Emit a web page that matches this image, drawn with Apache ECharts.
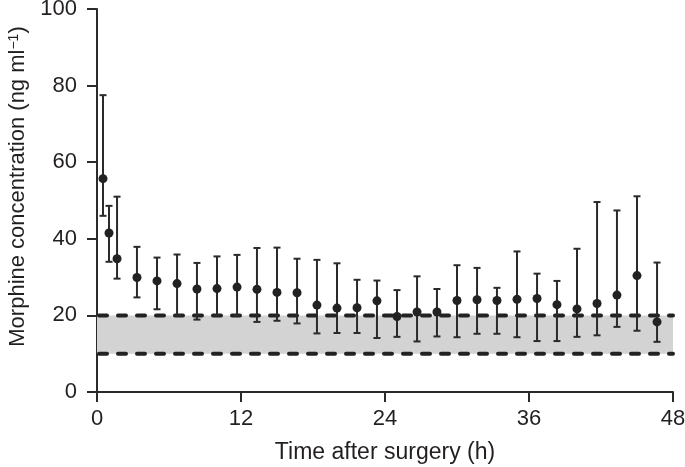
<!DOCTYPE html>
<html>
<head>
<meta charset="utf-8">
<script src="https://cdn.jsdelivr.net/npm/echarts@6/dist/echarts.min.js"></script>
<style>html,body{margin:0;padding:0;background:#fff}#c{width:685px;height:467px}</style>
</head>
<body>
<div id="c"></div>
<script>
// Time after surgery (h)
var times = [0.5, 1, 1.67, 3.33, 5, 6.67, 8.33, 10, 11.67, 13.33, 15, 16.67, 18.33, 20, 21.67, 23.33, 25, 26.67, 28.33, 30, 31.67, 33.33, 35, 36.67, 38.33, 40, 41.67, 43.33, 45, 46.67];
// Morphine concentration (ng/ml)
var means = [55.7, 41.5, 34.8, 29.9, 29.0, 28.3, 26.9, 27.0, 27.4, 26.8, 26.0, 25.9, 22.7, 21.9, 22.0, 23.8, 19.7, 20.9, 20.9, 23.9, 24.1, 23.9, 24.2, 24.4, 22.8, 21.7, 23.1, 25.3, 30.4, 18.3];
var upper = [77.5, 48.6, 51.0, 37.9, 35.1, 35.9, 33.7, 35.4, 35.8, 37.6, 37.7, 34.8, 34.5, 33.6, 29.3, 29.1, 26.6, 30.2, 26.9, 33.1, 32.4, 27.2, 36.7, 30.9, 29.0, 37.4, 49.6, 47.4, 51.1, 33.8];
var lower = [46.0, 34.0, 29.6, 24.7, 21.6, 19.9, 18.9, 20.0, 20.0, 18.3, 18.6, 17.9, 15.3, 15.4, 15.4, 14.1, 14.4, 13.2, 14.5, 14.3, 15.2, 15.2, 14.3, 13.3, 13.3, 14.4, 14.8, 17.0, 16.0, 13.1];
// Target range (ng/ml) and time span (h)
var targetRange = [10, 20];
var timeSpan = [0, 48];
var xTicks = [0, 12, 24, 36, 48];
var yTicks = [0, 20, 40, 60, 80, 100];

var FONT = 'Liberation Sans, Arial, Helvetica, sans-serif';
var TXT = '#231f20';
var AX = '#2b2b2b';

var points = times.map(function (t, i) { return [t, means[i]]; });
var bars = times.map(function (t, i) { return [t, lower[i], upper[i]]; });

var chart = echarts.init(document.getElementById('c'));
chart.setOption({
  animation: false,
  grid: { left: 97, right: 12, top: 9, bottom: 75, containLabel: false, outerBoundsMode: 'none' },
  xAxis: {
    type: 'value', min: xTicks[0], max: xTicks[xTicks.length - 1], interval: 12,
    name: 'Time after surgery (h)', nameLocation: 'middle', nameGap: 49,
    nameTextStyle: { fontFamily: FONT, fontSize: 23, color: TXT },
    axisLine: { lineStyle: { color: AX, width: 2 } },
    axisTick: { length: 10, lineStyle: { color: AX, width: 2 } },
    axisLabel: { fontFamily: FONT, fontSize: 22, color: TXT, margin: 16 },
    splitLine: { show: false }
  },
  yAxis: {
    type: 'value', min: yTicks[0], max: yTicks[yTicks.length - 1], interval: 20,
    name: '{n|Morphine concentration (ng ml}{s|−1}{n|)}', nameLocation: 'middle', nameGap: 68, nameRotate: 90,
    nameTextStyle: {
      fontFamily: FONT, fontSize: 22, color: TXT, padding: [0, 0, 0, 28],
      rich: {
        n: { fontFamily: FONT, fontSize: 22, color: TXT },
        s: { fontFamily: FONT, fontSize: 14, color: TXT, verticalAlign: 'top', padding: [0, 0, 8, 0] }
      }
    },
    axisLine: { show: true, lineStyle: { color: AX, width: 2 } },
    axisTick: { show: true, length: 10, lineStyle: { color: AX, width: 2 } },
    axisLabel: { fontFamily: FONT, fontSize: 22, color: TXT, margin: 20 },
    splitLine: { show: false }
  },
  series: [
    {
      type: 'line', data: [[timeSpan[0], targetRange[1]], [timeSpan[1], targetRange[1]]],
      symbol: 'none', silent: true, z: 3,
      lineStyle: { color: '#222', width: 4, type: [8, 11], dashOffset: -2, cap: 'round' },
      markArea: {
        silent: true,
        itemStyle: { color: '#d3d3d4' },
        data: [[{ coord: [timeSpan[0], targetRange[0]] }, { coord: [timeSpan[1], targetRange[1]] }]]
      }
    },
    {
      type: 'line', data: [[timeSpan[0], targetRange[0]], [timeSpan[1], targetRange[0]]],
      symbol: 'none', silent: true, z: 3,
      lineStyle: { color: '#222', width: 4, type: [8, 11], dashOffset: -2, cap: 'round' }
    },
    {
      type: 'custom', z: 4, data: bars,
      renderItem: function (params, api) {
        var x = api.value(0);
        var lo = api.coord([x, api.value(1)]);
        var hi = api.coord([x, api.value(2)]);
        var hw = 3.5;
        var st = { stroke: '#2a2a2a', lineWidth: 2 };
        return {
          type: 'group',
          children: [
            { type: 'line', shape: { x1: lo[0], y1: lo[1], x2: hi[0], y2: hi[1] }, style: st },
            { type: 'line', shape: { x1: hi[0] - hw, y1: hi[1], x2: hi[0] + hw, y2: hi[1] }, style: st },
            { type: 'line', shape: { x1: lo[0] - hw, y1: lo[1], x2: lo[0] + hw, y2: lo[1] }, style: st }
          ]
        };
      }
    },
    {
      type: 'scatter', z: 5, data: points, symbol: 'circle', symbolSize: 9,
      itemStyle: { color: '#222', opacity: 1 }
    }
  ]
});
</script>
</body>
</html>
